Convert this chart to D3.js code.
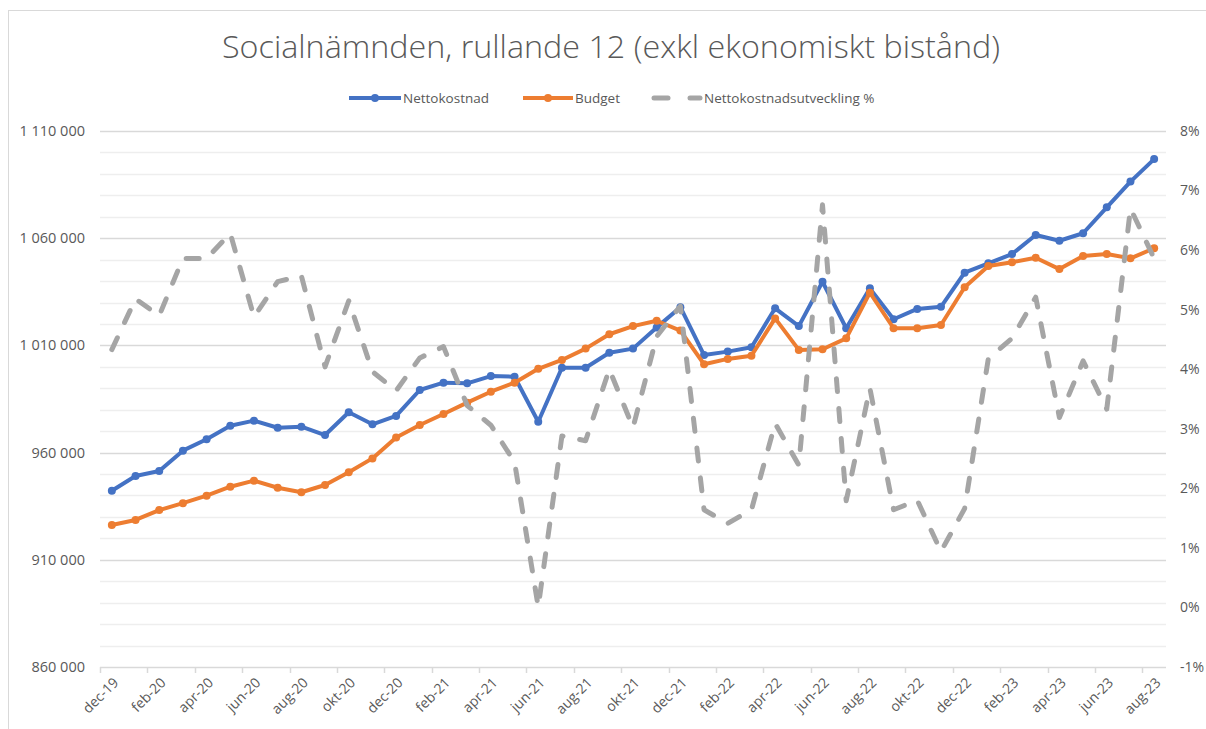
<!DOCTYPE html>
<html>
<head>
<meta charset="utf-8">
<script src="https://cdnjs.cloudflare.com/ajax/libs/d3/7.8.5/d3.min.js"></script>
<style>
    body { margin: 0; background: #fff; }
    svg text { font-family: "Open Sans", sans-serif; fill: #595959; }
</style>
</head>
<body>
<div id="chart"></div>
<script>
// months on the x axis (rolling 12)
var months = [
    'dec-19',
    'jan-20', 'feb-20', 'mar-20', 'apr-20', 'maj-20', 'jun-20', 'jul-20', 'aug-20', 'sep-20', 'okt-20', 'nov-20', 'dec-20',
    'jan-21', 'feb-21', 'mar-21', 'apr-21', 'maj-21', 'jun-21', 'jul-21', 'aug-21', 'sep-21', 'okt-21', 'nov-21', 'dec-21',
    'jan-22', 'feb-22', 'mar-22', 'apr-22', 'maj-22', 'jun-22', 'jul-22', 'aug-22', 'sep-22', 'okt-22', 'nov-22', 'dec-22',
    'jan-23', 'feb-23', 'mar-23', 'apr-23', 'maj-23', 'jun-23', 'jul-23', 'aug-23'
];

var nettokostnad = [
    942200,
    949100, 951400, 960900, 966200, 972500, 974900, 971600, 972100, 968200, 978800, 973200, 977100,
    989200, 992600, 992300, 995700, 995400, 974400, 999600, 999600, 1006600, 1008500, 1018400, 1027800,
    1005500, 1007100, 1009100, 1027300, 1019000, 1039700, 1018000, 1036600, 1022200, 1027000, 1028000, 1043900,
    1048300, 1052600, 1061500, 1058800, 1062300, 1074400, 1086400, 1096900
];

var budget = [
    926200,
    928600, 933200, 936400, 939900, 944100, 946900, 943600, 941500, 944900, 950800, 957300, 967000,
    972900, 978000, 983300, 988400, 992600, 999100, 1003200, 1008500, 1015200, 1019000, 1021500, 1016900,
    1001200, 1003700, 1005200, 1022600, 1007900, 1008200, 1013300, 1034600, 1018000, 1018000, 1019500, 1037100,
    1047000, 1048800, 1050900, 1045600, 1051700, 1052600, 1050600, 1055300
];

// nettokostnadsutveckling in percent
var utveckling = [
    4.33,
    5.18, 4.90, 5.86, 5.86, 6.28, 4.88, 5.47, 5.57, 4.04, 5.15, 3.96, 3.64,
    4.19, 4.38, 3.39, 3.06, 2.44, 0.01, 2.88, 2.80, 4.00, 3.02, 4.55, 5.06,
    1.64, 1.41, 1.64, 3.09, 2.39, 6.76, 1.79, 3.68, 1.64, 1.80, 0.94, 1.66,
    4.18, 4.52, 5.21, 3.19, 4.14, 3.33, 6.70, 5.86
];

var leftTicks = [860000, 910000, 960000, 1010000, 1060000, 1110000];
var rightTicks = [-1, 0, 1, 2, 3, 4, 5, 6, 7, 8];

var title = 'Socialnämnden, rullande 12 (exkl ekonomiskt bistånd)';
var seriesNames = ['Nettokostnad', 'Budget', 'Nettokostnadsutveckling %'];

var W = 1206, H = 729;
var margin = {top: 131, right: 40, bottom: 62, left: 100};
var blue = '#4472c4', orange = '#ed7d31', grey = '#a5a5a5';

var sv = d3.formatLocale({decimal: ',', thousands: ' ', grouping: [3], currency: ['', ' kr']});
var fmtKr = sv.format(',.0f');

var svg = d3.select('#chart').append('svg')
    .attr('width', W)
    .attr('height', H);

// chart frame
svg.append('rect')
    .attr('x', 8.5).attr('y', 10.5)
    .attr('width', W).attr('height', H)
    .attr('fill', 'none')
    .attr('stroke', '#d9d9d9');

var x = d3.scaleBand()
    .domain(months)
    .range([margin.left, W - margin.right])
    .paddingInner(0)
    .paddingOuter(0);

var y = d3.scaleLinear()
    .domain([leftTicks[0], leftTicks[leftTicks.length - 1]])
    .range([H - margin.bottom, margin.top]);

var y2 = d3.scaleLinear()
    .domain([rightTicks[0], rightTicks[rightTicks.length - 1]])
    .range([H - margin.bottom, margin.top]);

function cx(m) { return x(m) + x.bandwidth() / 2; }

// minor + major gridlines
var minor = d3.range(leftTicks[0], leftTicks[leftTicks.length - 1] + 1, 10000);
svg.append('g').selectAll('line')
    .data(minor)
    .enter().append('line')
    .attr('x1', x.range()[0]).attr('x2', x.range()[1])
    .attr('y1', function(d) { return Math.round(y(d)) + 0.5; })
    .attr('y2', function(d) { return Math.round(y(d)) + 0.5; })
    .attr('stroke', function(d) { return leftTicks.indexOf(d) >= 0 ? '#d9d9d9' : '#eeeeee'; })
    .attr('stroke-width', 1.5);

// left axis labels
svg.append('g').selectAll('text')
    .data(leftTicks)
    .enter().append('text')
    .attr('x', 85)
    .attr('y', function(d) { return y(d); })
    .attr('dy', '0.35em')
    .attr('text-anchor', 'end')
    .style('font-size', '14.5px')
    .text(function(d) { return fmtKr(d); });

// right axis labels
svg.append('g').selectAll('text')
    .data(rightTicks)
    .enter().append('text')
    .attr('x', 1180)
    .attr('y', function(d) { return y2(d); })
    .attr('dy', '0.35em')
    .attr('text-anchor', 'start')
    .style('font-size', '14px')
    .text(function(d) { return d + '%'; });

// x axis: tick every second month, label in middle of month
var labelled = months.filter(function(d, i) { return i % 2 === 0; });
var xg = svg.append('g');
xg.selectAll('line')
    .data(labelled)
    .enter().append('line')
    .attr('x1', function(d) { return Math.round(x(d)) + 0.5; })
    .attr('x2', function(d) { return Math.round(x(d)) + 0.5; })
    .attr('y1', y.range()[0])
    .attr('y2', y.range()[0] + 6)
    .attr('stroke', '#d9d9d9')
    .attr('stroke-width', 1.5);
xg.selectAll('text')
    .data(labelled)
    .enter().append('text')
    .attr('transform', function(d) {
        return 'translate(' + (cx(d) + 4) + ',' + (y.range()[0] + 13) + ') rotate(-45)';
    })
    .attr('text-anchor', 'end')
    .attr('dy', '0.35em')
    .style('font-size', '14px')
    .text(function(d) { return d; });

// lines
function drawSeries(values, scale, color, dashed) {
    var line = d3.line()
        .x(function(d, i) { return cx(months[i]); })
        .y(function(d) { return scale(d); });
    var path = svg.append('path')
        .datum(values)
        .attr('d', line)
        .attr('fill', 'none')
        .attr('stroke', color)
        .attr('stroke-linejoin', 'round');
    if (dashed) {
        path.attr('stroke-width', 5)
            .attr('stroke-linecap', 'round')
            .attr('stroke-dasharray', '13 17');
    } else {
        path.attr('stroke-width', 4);
        svg.append('g').selectAll('circle')
            .data(values)
            .enter().append('circle')
            .attr('cx', function(d, i) { return cx(months[i]); })
            .attr('cy', function(d) { return scale(d); })
            .attr('r', 4)
            .attr('fill', color);
    }
}

drawSeries(nettokostnad, y, blue, false);
drawSeries(budget, y, orange, false);
drawSeries(utveckling, y2, grey, true);

// title
svg.append('text')
    .attr('x', 611)
    .attr('y', 58)
    .attr('text-anchor', 'middle')
    .attr('textLength', 778)
    .attr('lengthAdjust', 'spacingAndGlyphs')
    .style('font-size', '32px')
    .style('font-weight', 300)
    .text(title);

// legend
var ly = 98;
var legend = svg.append('g');
var items = [
    {name: seriesNames[0], color: blue, x0: 349, x1: 401, tx: 403},
    {name: seriesNames[1], color: orange, x0: 523, x1: 573, tx: 575}
];
items.forEach(function(it) {
    legend.append('line')
        .attr('x1', it.x0).attr('x2', it.x1)
        .attr('y1', ly).attr('y2', ly)
        .attr('stroke', it.color)
        .attr('stroke-width', 4);
    legend.append('circle')
        .attr('cx', (it.x0 + it.x1) / 2).attr('cy', ly)
        .attr('r', 4)
        .attr('fill', it.color);
    legend.append('text')
        .attr('x', it.tx).attr('y', ly)
        .attr('dy', '0.35em')
        .style('font-size', '13.5px')
        .text(it.name);
});
[[654, 668], [690, 700]].forEach(function(seg) {
    legend.append('line')
        .attr('x1', seg[0]).attr('x2', seg[1])
        .attr('y1', ly).attr('y2', ly)
        .attr('stroke', grey)
        .attr('stroke-width', 5)
        .attr('stroke-linecap', 'round');
});
legend.append('text')
    .attr('x', 704).attr('y', ly)
    .attr('dy', '0.35em')
    .style('font-size', '13.5px')
    .text(seriesNames[2]);
</script>
</body>
</html>
